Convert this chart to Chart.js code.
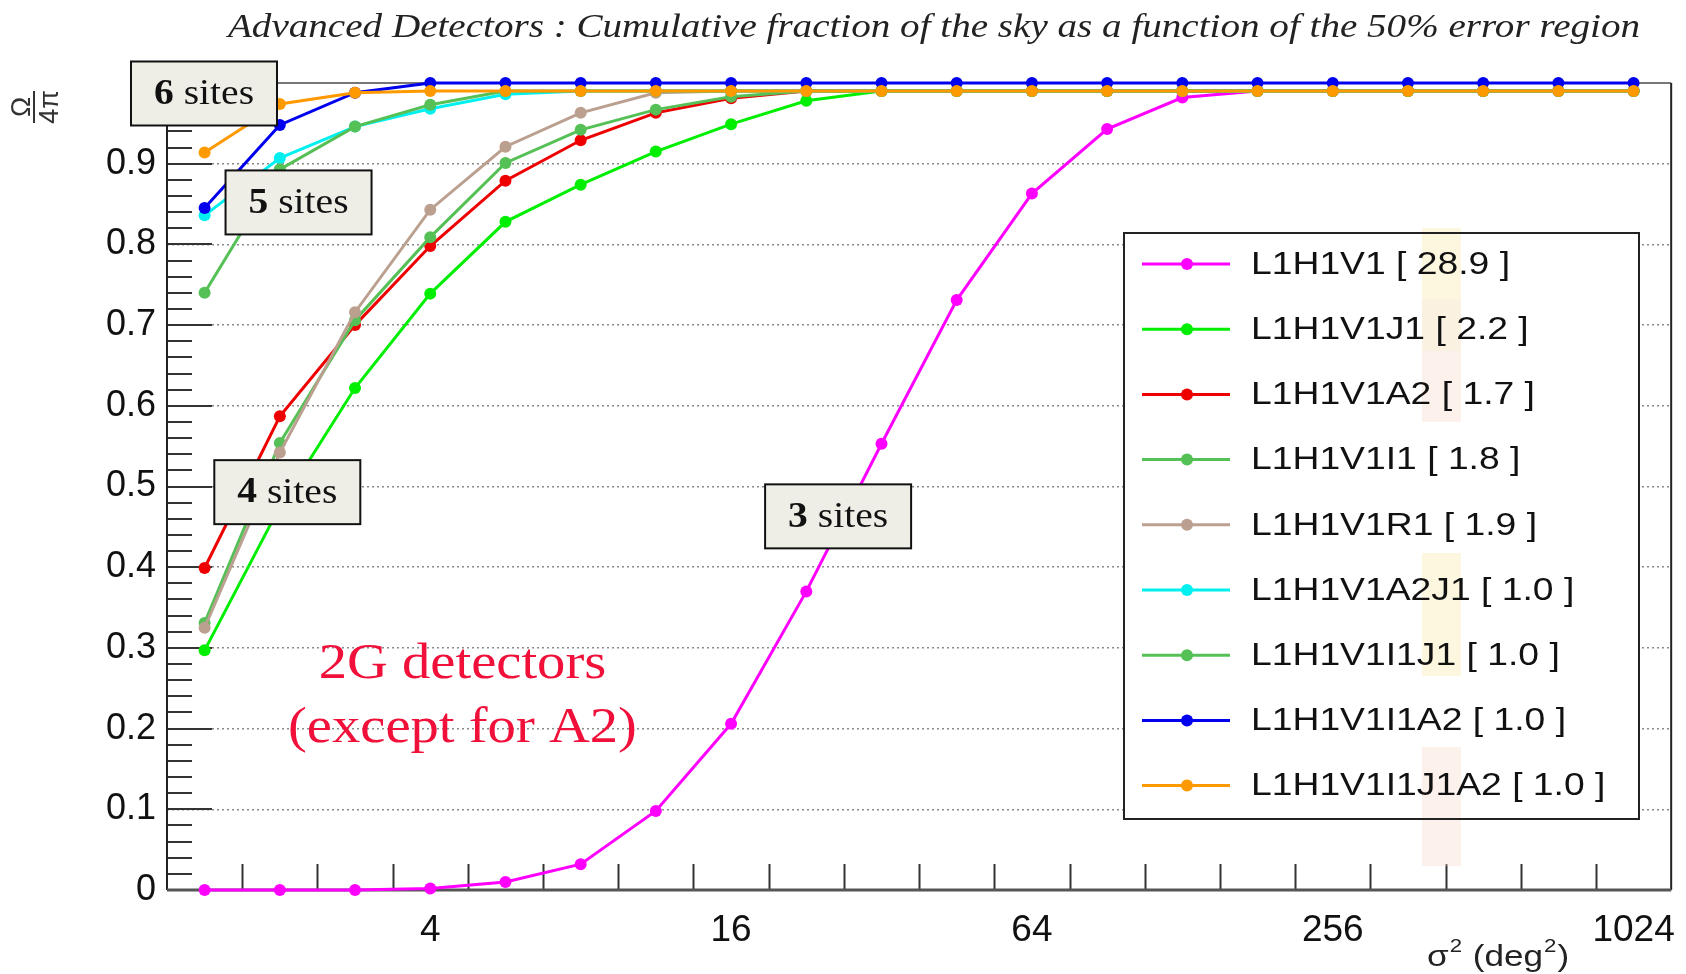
<!DOCTYPE html>
<html>
<head>
<meta charset="utf-8">
<script src="https://cdn.jsdelivr.net/npm/chart.js@4.4.0/dist/chart.umd.min.js"></script>
<style>
  html, body { margin: 0; padding: 0; background: #fff; }
  #wrap { width: 1686px; height: 974px; position: relative; }
</style>
</head>
<body>
<div id="wrap"><canvas id="grafico"></canvas></div>
<script>
// sigma^2 (deg^2), bin centres, one step = factor sqrt(2)
const sigma2 = [1.414, 2, 2.828, 4, 5.657, 8, 11.31, 16, 22.63, 32, 45.25, 64, 90.51, 128, 181.0, 256, 362.0, 512, 724.1, 1024];
const xTickLabels = [4, 16, 64, 256, 1024];

// cumulative sky fraction per network
const L1H1V1       = [0, 0, 0, 0.002, 0.01, 0.032, 0.098, 0.206, 0.37, 0.553, 0.731, 0.863, 0.943, 0.982, 0.99, 0.99, 0.99, 0.99, 0.99, 0.99];
const L1H1V1J1     = [0.297, 0.475, 0.622, 0.739, 0.828, 0.874, 0.915, 0.949, 0.978, 0.99, 0.99, 0.99, 0.99, 0.99, 0.99, 0.99, 0.99, 0.99, 0.99, 0.99];
const L1H1V1A2     = [0.399, 0.587, 0.70, 0.798, 0.879, 0.929, 0.963, 0.981, 0.99, 0.99, 0.99, 0.99, 0.99, 0.99, 0.99, 0.99, 0.99, 0.99, 0.99, 0.99];
const L1H1V1I1     = [0.331, 0.554, 0.706, 0.809, 0.901, 0.942, 0.967, 0.983, 0.99, 0.99, 0.99, 0.99, 0.99, 0.99, 0.99, 0.99, 0.99, 0.99, 0.99, 0.99];
const L1H1V1R1     = [0.325, 0.542, 0.716, 0.843, 0.921, 0.963, 0.988, 0.99, 0.99, 0.99, 0.99, 0.99, 0.99, 0.99, 0.99, 0.99, 0.99, 0.99, 0.99, 0.99];
const L1H1V1A2J1   = [0.836, 0.907, 0.946, 0.968, 0.986, 0.99, 0.99, 0.99, 0.99, 0.99, 0.99, 0.99, 0.99, 0.99, 0.99, 0.99, 0.99, 0.99, 0.99, 0.99];
const L1H1V1I1J1   = [0.74, 0.893, 0.946, 0.973, 0.99, 0.99, 0.99, 0.99, 0.99, 0.99, 0.99, 0.99, 0.99, 0.99, 0.99, 0.99, 0.99, 0.99, 0.99, 0.99];
const L1H1V1I1A2   = [0.845, 0.948, 0.988, 1.0, 1.0, 1.0, 1.0, 1.0, 1.0, 1.0, 1.0, 1.0, 1.0, 1.0, 1.0, 1.0, 1.0, 1.0, 1.0, 1.0];
const L1H1V1I1J1A2 = [0.914, 0.974, 0.988, 0.99, 0.99, 0.99, 0.99, 0.99, 0.99, 0.99, 0.99, 0.99, 0.99, 0.99, 0.99, 0.99, 0.99, 0.99, 0.99, 0.99];

const redes = ["L1H1V1", "L1H1V1J1", "L1H1V1A2", "L1H1V1I1", "L1H1V1R1", "L1H1V1A2J1", "L1H1V1I1J1", "L1H1V1I1A2", "L1H1V1I1J1A2"];
const areas = ["28.9", "2.2", "1.7", "1.8", "1.9", "1.0", "1.0", "1.0", "1.0"];
const series = [L1H1V1, L1H1V1J1, L1H1V1A2, L1H1V1I1, L1H1V1R1, L1H1V1A2J1, L1H1V1I1J1, L1H1V1I1A2, L1H1V1I1J1A2];
const cores = ["#ff00ff", "#00ee00", "#ee0000", "#55c055", "#bba090", "#00f0f0", "#55c055", "#0000ee", "#ff9900"];

// boxed annotations, anchored in data units
const caixas = [
  { n: "6", x: 1.41, y: 0.987 },
  { n: "5", x: 2.18, y: 0.852 },
  { n: "4", x: 2.07, y: 0.493 },
  { n: "3", x: 26.2, y: 0.463 }
];
const notaVermelha = [
  { t: "2G detectors", x: 4.64, y: 0.279 },
  { t: "(except for A2)", x: 4.64, y: 0.2 }
];

const SERIF = '"Liberation Serif", "Times New Roman", serif';
const SANS = '"Liberation Sans", Arial, sans-serif';

function texto(ctx, str, x, y, font, color, align, sx) {
  ctx.save();
  ctx.font = font;
  ctx.fillStyle = color;
  ctx.textBaseline = "middle";
  ctx.textAlign = "left";
  const w = ctx.measureText(str).width * sx;
  const x0 = align === "center" ? x - w / 2 : (align === "right" ? x - w : x);
  ctx.translate(x0, y);
  ctx.scale(sx, 1);
  ctx.fillText(str, 0, 0);
  ctx.restore();
  return w;
}

function larguraTexto(ctx, str, font, sx) {
  ctx.save();
  ctx.font = font;
  const w = ctx.measureText(str).width * sx;
  ctx.restore();
  return w;
}

// ROOT look: inward ticks, frame, title, legend box, labels
const estiloRoot = {
  id: "estiloRoot",
  beforeDatasetsDraw(chart) {
    const ctx = chart.ctx, a = chart.chartArea;
    const xs = chart.scales.x, ys = chart.scales.y;
    ctx.save();
    ctx.strokeStyle = "#333";
    ctx.lineWidth = 2;
    ctx.beginPath();
    // x ticks at the bin edges
    for (let i = 0; i < sigma2.length - 1; i++) {
      const borda = Math.sqrt(sigma2[i] * sigma2[i + 1]);
      const px = Math.round(xs.getPixelForValue(borda)) + 0.5;
      ctx.moveTo(px, a.bottom);
      ctx.lineTo(px, a.bottom - 26);
    }
    // y ticks: major every 0.1, minor every 0.02
    for (let k = 1; k < 50; k++) {
      const py = Math.round(ys.getPixelForValue(k * 0.02));
      const len = k % 5 === 0 ? 45 : 25;
      ctx.moveTo(a.left, py);
      ctx.lineTo(a.left + len, py);
    }
    ctx.stroke();

    // frame
    ctx.lineWidth = 2;
    ctx.strokeStyle = "#777";
    ctx.beginPath(); ctx.moveTo(a.left, a.top); ctx.lineTo(a.right, a.top); ctx.stroke();
    ctx.strokeStyle = "#222";
    ctx.beginPath(); ctx.moveTo(a.right, a.top); ctx.lineTo(a.right, a.bottom); ctx.stroke();
    ctx.beginPath(); ctx.moveTo(a.left, a.top); ctx.lineTo(a.left, a.bottom); ctx.stroke();
    ctx.strokeStyle = "#555";
    ctx.lineWidth = 3;
    ctx.beginPath(); ctx.moveTo(a.left, a.bottom); ctx.lineTo(a.right, a.bottom); ctx.stroke();
    ctx.restore();
  },
  afterDraw(chart) {
    const ctx = chart.ctx;
    const xs = chart.scales.x, ys = chart.scales.y;

    // title
    texto(ctx, "Advanced Detectors : Cumulative fraction of the sky as a function of the 50% error region",
      934, 28, "italic 34px " + SERIF, "#222", "center", 1.15);

    // y axis title: Omega / 4 pi, rotated
    ctx.save();
    ctx.translate(34, 107);
    ctx.rotate(-Math.PI / 2);
    ctx.fillStyle = "#333";
    ctx.font = "27px " + SANS;
    ctx.textAlign = "center";
    ctx.textBaseline = "alphabetic";
    ctx.fillText("Ω", 0, -4);
    ctx.textBaseline = "top";
    ctx.fillText("4π", 0, 3);
    ctx.strokeStyle = "#333";
    ctx.lineWidth = 2;
    ctx.beginPath(); ctx.moveTo(-16, 0); ctx.lineTo(16, 0); ctx.stroke();
    ctx.restore();

    // x axis title: sigma^2 (deg^2)
    const fN = "30px " + SANS, fS = "19px " + SANS;
    let cx = 1427;
    const cy = 958;
    cx += texto(ctx, "σ", cx, cy, fN, "#222", "left", 1.17);
    cx += texto(ctx, "2", cx + 1, cy - 11, fS, "#222", "left", 1.17) + 2;
    cx += texto(ctx, " (deg", cx, cy, fN, "#222", "left", 1.17);
    cx += texto(ctx, "2", cx + 1, cy - 11, fS, "#222", "left", 1.17) + 2;
    texto(ctx, ")", cx, cy, fN, "#222", "left", 1.17);

    // boxed site counts
    caixas.forEach(c => {
      const px = xs.getPixelForValue(c.x), py = ys.getPixelForValue(c.y);
      const w = 146, h = 64;
      ctx.save();
      ctx.fillStyle = "#efeee6";
      ctx.fillRect(px - w / 2, py - h / 2, w, h);
      ctx.strokeStyle = "#111";
      ctx.lineWidth = 2;
      ctx.strokeRect(px - w / 2, py - h / 2, w, h);
      ctx.restore();
      const fB = "bold 36px " + SERIF, fR = "36px " + SERIF;
      const w1 = larguraTexto(ctx, c.n, fB, 1.1), w2 = larguraTexto(ctx, " sites", fR, 1.1);
      const x0 = px - (w1 + w2) / 2;
      texto(ctx, c.n, x0, py + 1, fB, "#111", "left", 1.1);
      texto(ctx, " sites", x0 + w1, py + 1, fR, "#111", "left", 1.1);
    });

    // red note
    notaVermelha.forEach(n => {
      texto(ctx, n.t, xs.getPixelForValue(n.x), ys.getPixelForValue(n.y), "51px " + SERIF, "#f0103a", "center", 1.11);
    });

    // legend box
    const lx = 1124, ly = 233, lw = 515, lh = 586;
    ctx.save();
    ctx.fillStyle = "#fff";
    ctx.fillRect(lx, ly, lw, lh);
    // faint highlight marks on the legend
    ctx.fillStyle = "rgba(245,232,160,0.35)";
    ctx.fillRect(1422, 228, 39, 71);
    ctx.fillRect(1422, 553, 39, 123);
    ctx.fillStyle = "rgba(240,215,170,0.35)";
    ctx.fillRect(1422, 299, 39, 52);
    ctx.fillStyle = "rgba(248,215,200,0.35)";
    ctx.fillRect(1422, 351, 39, 71);
    ctx.fillRect(1422, 747, 39, 119);
    ctx.strokeStyle = "#222";
    ctx.lineWidth = 2;
    ctx.strokeRect(lx, ly, lw, lh);
    ctx.restore();
    redes.forEach((nome, i) => {
      const ry = 264 + i * 65.2;
      ctx.save();
      ctx.strokeStyle = cores[i];
      ctx.fillStyle = cores[i];
      ctx.lineWidth = 3;
      ctx.beginPath(); ctx.moveTo(1142, ry); ctx.lineTo(1230, ry); ctx.stroke();
      ctx.beginPath(); ctx.arc(1187, ry, 6, 0, Math.PI * 2); ctx.fill();
      ctx.restore();
      texto(ctx, nome + " [ " + areas[i] + " ]", 1251, ry + 1, "32px " + SANS, "#111", "left", 1.165);
    });
  }
};

const xMin = sigma2[0] / Math.pow(2, 0.25);
const xMax = sigma2[sigma2.length - 1] * Math.pow(2, 0.25);

new Chart(document.getElementById("grafico").getContext("2d"), {
  type: "line",
  data: {
    datasets: series.map((s, i) => ({
      label: redes[i],
      data: sigma2.map((x, j) => ({ x: x, y: s[j] })),
      borderColor: cores[i],
      backgroundColor: cores[i],
      borderWidth: 3,
      pointRadius: 6,
      pointHoverRadius: 6,
      pointBorderWidth: 0,
      tension: 0,
      clip: false,
      order: series.length - 1 - i
    }))
  },
  options: {
    responsive: true,
    maintainAspectRatio: false,
    animation: false,
    events: [],
    layout: { padding: { top: 83, right: 11, left: 0, bottom: 0 } },
    plugins: { legend: { display: false }, tooltip: { enabled: false }, title: { display: false } },
    scales: {
      x: {
        type: "logarithmic",
        min: xMin,
        max: xMax,
        grid: { display: false },
        border: { display: false },
        afterBuildTicks: s => { s.ticks = xTickLabels.map(v => ({ value: v })); },
        afterFit: s => { s.height = 84; },
        ticks: {
          autoSkip: false, maxRotation: 0, minRotation: 0, padding: 11, color: "#111",
          font: { family: SANS, size: 37 },
          callback: v => String(v)
        }
      },
      y: {
        min: 0,
        max: 1,
        grid: { color: "#8a8a8a", lineWidth: 1.5, drawTicks: false },
        border: { display: false, dash: [2, 3] },
        afterFit: s => { s.width = 167; },
        ticks: {
          stepSize: 0.1, padding: 11, color: "#111",
          font: { family: SANS, size: 36 },
          callback: v => (v >= 0.999 ? "" : (v === 0 ? "0" : v.toFixed(1)))
        }
      }
    }
  },
  plugins: [estiloRoot]
});
</script>
</body>
</html>
